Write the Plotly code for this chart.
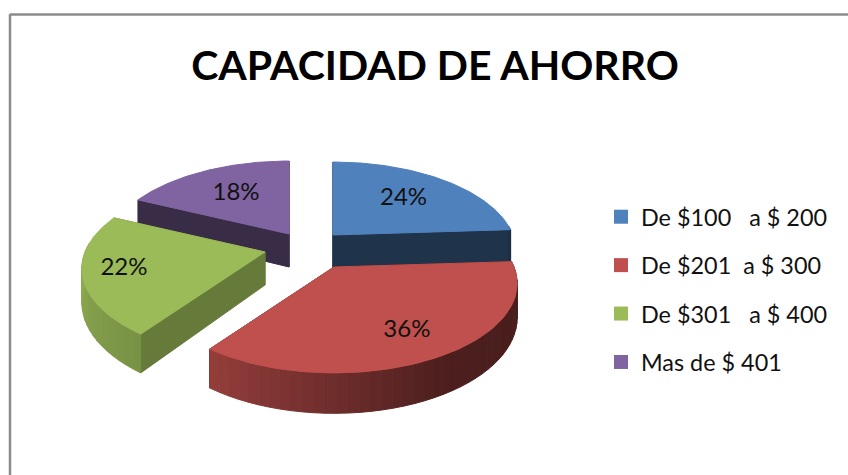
"""CAPACIDAD DE AHORRO: pastel 3D con porciones separadas, dibujado con trazos Scatter."""
import numpy as np
import plotly.graph_objects as go

TITLE = "CAPACIDAD DE AHORRO"
CATEGORIES = [
    "De $100\u00a0\u00a0 a $ 200",
    "De $201\u00a0 a $ 300",
    "De $301\u00a0\u00a0 a $ 400",
    "Mas de $ 401",
]
PERCENTS = [24, 36, 22, 18]
COLORS = ["#4F81BD", "#C0504D", "#9BBB59", "#8064A2"]

# geometria de la proyeccion (en pixeles de la pagina)
APEX = [(333, 235), (334, 267), (265, 252), (289, 234)]
LABEL_RADIUS = [0.62, 0.74, 0.78, 0.60]
DRAW_ORDER = [3, 0, 2, 1]  # de atras hacia adelante
RX, RY, PERSP, DEPTH = 180, 86.4, 0.184, 33
FACE_SHADE = [0.40, 0.40, 0.66, 0.44]
FONT = "Lato"
TEXT_COLOR = "#111111"


def project(apex, theta, r=1.0):
    """Punto del disco (angulo en grados, horario desde arriba) a pixeles."""
    t = np.radians(theta)
    x3, z3 = r * np.sin(t), r * np.cos(t)
    s = 1 / (1 + PERSP * z3)
    return apex[0] + RX * x3 * s, apex[1] - RY * z3 * s, s


def shade(color, k):
    rgb = [int(color[i:i + 2], 16) for i in (1, 3, 5)]
    return "rgb({},{},{})".format(*[int(c * k) for c in rgb])


def wall_brightness(theta):
    return np.interp(theta, [90, 150, 216, 270, 300], [0.37, 0.40, 0.78, 0.92, 0.92])


def add_poly(fig, xs, ys, color):
    fig.add_trace(go.Scatter(
        x=list(xs) + [xs[0]], y=list(ys) + [ys[0]],
        mode="lines", fill="toself", fillcolor=color,
        line=dict(color=color, width=1),
        hoverinfo="skip", showlegend=False,
    ))


def add_face(fig, apex, theta, color):
    px, py, ps = project(apex, theta)
    add_poly(fig, [apex[0], px, px, apex[0]],
             [apex[1], py, py + DEPTH * ps, apex[1] + DEPTH], color)


def add_slice(fig, i, start, end):
    apex = APEX[i]
    color = COLORS[i]
    face = shade(color, FACE_SHADE[i])
    add_face(fig, apex, start, face)
    add_face(fig, apex, end, face)
    # pared exterior por segmentos, para el degradado
    for a, b in zip(np.arange(start, end, 3.0), np.arange(start, end, 3.0) + 3.0):
        b = min(b, end)
        mid = (a + b) / 2
        if np.cos(np.radians(mid)) > 0.12:
            continue
        ax, ay, asc = project(apex, a)
        bx, by, bsc = project(apex, b)
        add_poly(fig, [ax, bx, bx, ax],
                 [ay, by, by + DEPTH * bsc, ay + DEPTH * asc],
                 shade(color, wall_brightness(mid)))
    thetas = np.linspace(start, end, 90)
    xs, ys, _ = project(apex, thetas)
    add_poly(fig, [apex[0], *xs], [apex[1], *ys], color)


fig = go.Figure()
edges = np.cumsum([0] + PERCENTS) * 3.6
for i in DRAW_ORDER:
    add_slice(fig, i, edges[i], edges[i + 1])

for i, pct in enumerate(PERCENTS):
    lx, ly, _ = project(APEX[i], (edges[i] + edges[i + 1]) / 2, LABEL_RADIUS[i])
    fig.add_trace(go.Scatter(
        x=[lx], y=[ly], mode="text", text=[f"{pct}%"],
        textfont=dict(family=FONT, size=24, color=TEXT_COLOR),
        hoverinfo="skip", showlegend=False,
    ))

for i, name in enumerate(CATEGORIES):
    fig.add_trace(go.Scatter(
        x=[None], y=[None], mode="markers", name=name, legendgroup=name,
        marker=dict(symbol="square", size=14, color=COLORS[i]),
    ))

fig.update_layout(
    width=848, height=475,
    margin=dict(l=0, r=0, t=0, b=0),
    paper_bgcolor="white", plot_bgcolor="white",
    title=dict(text=f"<b>{TITLE}</b>", x=435 / 848, y=1 - 66 / 475,
               xanchor="center", yanchor="middle",
               font=dict(family=FONT, size=41, color="#000000")),
    xaxis=dict(range=[0, 848], visible=False, fixedrange=True),
    yaxis=dict(range=[475, 0], visible=False, fixedrange=True),
    legend=dict(x=601 / 848, y=1 - 195 / 475, xanchor="left", yanchor="top",
                tracegroupgap=15, itemsizing="trace",
                font=dict(family=FONT, size=23.4, color=TEXT_COLOR),
                bgcolor="rgba(0,0,0,0)"),
    shapes=[
        dict(type="line", xref="paper", yref="paper", x0=10 / 848, x1=1,
             y0=1 - 14.5 / 475, y1=1 - 14.5 / 475, line=dict(color="#8C8C8C", width=2.5)),
        dict(type="line", xref="paper", yref="paper", x0=10 / 848, x1=10 / 848,
             y0=0, y1=1 - 14 / 475, line=dict(color="#8C8C8C", width=2.5)),
    ],
)

fig.write_html("out.html", config={"displayModeBar": False},
               post_script="document.body.style.margin = '0';")
